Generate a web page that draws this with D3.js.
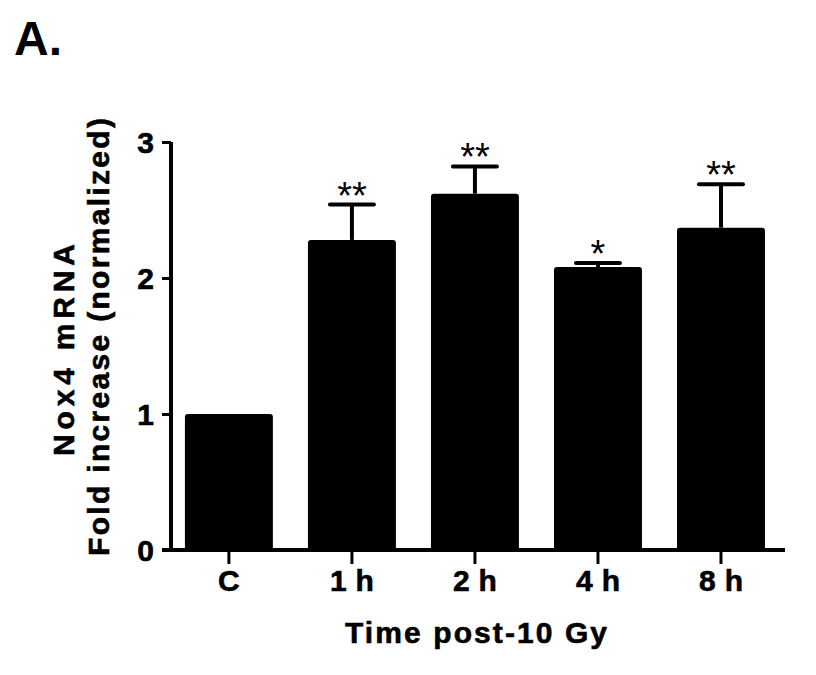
<!DOCTYPE html>
<html><head><meta charset="utf-8">
<script src="https://cdn.jsdelivr.net/npm/d3@7"></script>
<style>
html,body{margin:0;padding:0;background:#fff;}
text{font-family:"Liberation Sans",Arial,Helvetica,sans-serif;}
.cond{font-family:"Liberation Sans",Arial,sans-serif;font-weight:bold;stroke:#000;stroke-width:0.6px;}
</style></head>
<body>
<svg id="chart" width="816" height="675"></svg>
<script>
const categories = ["C", "1 h", "2 h", "4 h", "8 h"];
const values = [1.0, 2.28, 2.62, 2.08, 2.37];
const errors = [0, 0.26, 0.20, 0.03, 0.32];
const stars = ["", "**", "**", "*", "**"];
const yTicks = [0, 1, 2, 3];

const svg = d3.select("#chart");
const x = d3.scaleBand().domain(categories).range([171, 785])
  .paddingInner(0.285).paddingOuter(0.138).align(0.41);
const y = d3.scaleLinear().domain([0, 3]).range([550, 142]);

// panel label
svg.append("text").attr("x", 14).attr("y", 55).attr("font-size", 48)
  .attr("font-weight", "bold").text("A.");

// bars
svg.append("g").selectAll("rect").data(values).join("rect")
  .attr("x", (d, i) => x(categories[i]))
  .attr("y", d => y(d))
  .attr("width", x.bandwidth())
  .attr("height", d => y(0) - y(d) + 2)
  .attr("rx", 3).attr("fill", "#000");

// error bars (upper only)
const eg = svg.append("g");
values.forEach((v, i) => {
  if (!errors[i]) return;
  const cx = x(categories[i]) + x.bandwidth() / 2;
  eg.append("line").attr("x1", cx).attr("x2", cx)
    .attr("y1", y(v)).attr("y2", y(v + errors[i]))
    .attr("stroke", "#000").attr("stroke-width", 4);
  eg.append("line").attr("x1", cx - 22).attr("x2", cx + 22)
    .attr("y1", y(v + errors[i])).attr("y2", y(v + errors[i]))
    .attr("stroke", "#000").attr("stroke-width", 4).attr("stroke-linecap", "round");
});

// significance stars
svg.append("g").selectAll("text").data(stars).join("text")
  .attr("x", (d, i) => x(categories[i]) + x.bandwidth() / 2)
  .attr("y", (d, i) => y(values[i] + errors[i]) + 4)
  .attr("text-anchor", "middle").attr("font-size", 38)
  .text(d => d);

// y axis
const yAxis = svg.append("g").attr("transform", "translate(171,0)")
  .call(d3.axisLeft(y).tickValues(yTicks).tickFormat(d3.format("d")).tickSize(9).tickPadding(8));
yAxis.select(".domain").attr("stroke-width", 4).attr("d", `M0,${y(3)}V${y(0) + 2}`);
yAxis.selectAll(".tick line").attr("stroke-width", 3);
yAxis.selectAll(".tick text").attr("class", "cond").attr("font-size", 30)
  .attr("fill", "#000").attr("dy", "0.36em");

// x axis
const xAxis = svg.append("g").attr("transform", "translate(0,550)")
  .call(d3.axisBottom(x).tickSize(14).tickPadding(6));
xAxis.select(".domain").attr("stroke-width", 4).attr("d", "M162,0H785");
xAxis.selectAll(".tick line").attr("stroke-width", 3);
xAxis.selectAll(".tick text").attr("class", "cond").attr("font-size", 30)
  .attr("fill", "#000").attr("dy", "0.71em")
  .attr("textLength", d => d.length > 1 ? 44 : null).attr("lengthAdjust", "spacing");

// axis titles
svg.append("text").attr("class", "cond").attr("x", 476).attr("y", 643).attr("text-anchor", "middle")
  .attr("font-size", 30)
  .attr("textLength", 262).attr("lengthAdjust", "spacing")
  .text("Time post-10 Gy");

svg.append("text").attr("class", "cond").attr("transform", "translate(74,350) rotate(-90)")
  .attr("text-anchor", "middle").attr("font-size", 30)
  .attr("textLength", 212).attr("lengthAdjust", "spacing")
  .text("Nox4 mRNA");
svg.append("text").attr("class", "cond").attr("transform", "translate(109,337) rotate(-90)")
  .attr("text-anchor", "middle").attr("font-size", 30)
  .attr("textLength", 438).attr("lengthAdjust", "spacing")
  .text("Fold increase (normalized)");
</script>
</body></html>
